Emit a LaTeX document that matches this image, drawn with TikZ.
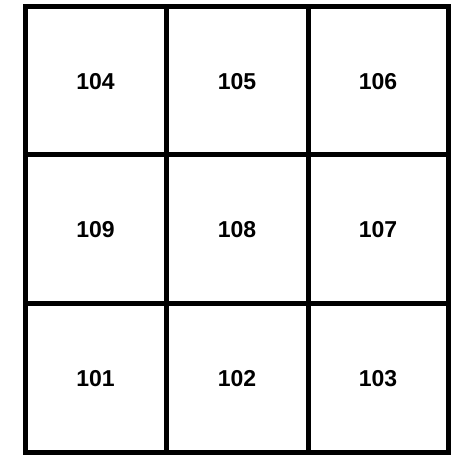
\documentclass[tikz,border=0pt]{standalone}
\usepackage{fontspec}
\setmainfont{Liberation Sans}
\begin{document}
\begin{tikzpicture}[x=1pt,y=1pt,
  gridline/.style={line width=5pt,line cap=rect,black},
  celllabel/.style={font=\fontsize{23}{27}\selectfont\bfseries,inner sep=0pt,anchor=center}]
\useasboundingbox (0,0) rectangle (455,459);
% grid corners (pixel x, 459 - pixel y)
\coordinate (tl) at (25,452);
\coordinate (br) at (448,6);
\foreach \yy in {452,304,155,6}
  \draw[gridline] (25,\yy) -- (448,\yy);
\foreach \xx in {25,166,308,448}
  \draw[gridline] (\xx,6) -- (\xx,452);
% labels
\node[celllabel] (c104) at (95.5,377) {104};
\node[celllabel] (c105) at (237,377) {105};
\node[celllabel] (c106) at (378,377) {106};
\node[celllabel] (c109) at (95.5,229) {109};
\node[celllabel] (c108) at (237,229) {108};
\node[celllabel] (c107) at (378,229) {107};
\node[celllabel] (c101) at (95.5,80) {101};
\node[celllabel] (c102) at (237,80) {102};
\node[celllabel] (c103) at (378,80) {103};
\end{tikzpicture}
\end{document}
